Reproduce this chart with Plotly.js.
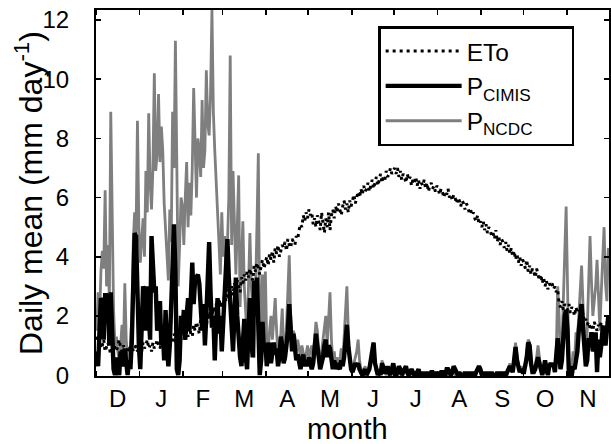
<!DOCTYPE html>
<html>
<head>
<meta charset="utf-8">
<script src="https://cdn.plot.ly/plotly-3.0.1.min.js"></script>
<style>html,body{margin:0;padding:0;background:#fff;}#chart{width:611px;height:444px;}</style>
</head>
<body>
<div id="chart"></div>
<script>
// Month labels (December to November) and month lengths in days
const monthLabels = ['D','J','F','M','A','M','J','J','A','S','O','N'];
const monthDays = [31,31,28,31,30,31,30,31,31,30,31,30];

// Reference evapotranspiration ETo, daily mean (mm/day), one row per month Dec..Nov
const etoByMonth = [
  [1.3,1.1,1.2,0.9,1.0,1.2,0.8,1.0,1.1,0.9,0.7,1.0,1.1,0.9,0.8,1.0,1.2,0.9,0.8,1.0,0.9,0.7,0.8,1.0,0.9,1.1,0.8,0.9,1.0,0.8,0.9],
  [1.0,0.8,1.1,0.9,1.0,1.2,0.9,1.0,0.8,1.1,0.9,1.0,1.2,1.0,0.9,1.1,1.0,1.2,0.9,1.1,1.3,1.0,1.2,1.1,1.4,1.2,1.0,1.3,1.5,1.2,1.3],
  [1.4,1.2,1.5,1.3,1.6,1.4,1.3,1.7,1.5,1.8,1.6,1.4,1.9,1.7,2.0,1.8,1.6,2.1,1.9,2.2,2.0,2.3,2.1,2.4,2.2,2.6,2.3,2.5],
  [2.4,2.7,2.5,2.9,2.6,2.8,3.0,2.7,3.1,2.9,3.2,3.0,2.8,3.3,3.1,3.4,3.2,3.5,3.3,3.6,3.4,3.2,3.7,3.5,3.8,3.6,3.4,3.7,3.9,3.6,3.8],
  [4.0,3.7,4.1,3.9,4.2,3.8,4.3,4.1,4.4,4.0,4.2,4.4,4.3,4.5,4.2,4.6,4.4,4.3,4.6,4.5,4.4,4.7,4.6,4.9,5.1,5.0,5.4,5.2,5.5,5.3],
  [5.6,5.4,5.5,5.1,5.3,5.0,5.4,5.2,4.9,5.5,5.1,4.8,5.3,5.0,5.5,4.9,5.4,5.6,5.3,5.7,5.5,5.8,5.6,5.4,5.7,5.9,5.6,5.8,5.5,5.9,5.7],
  [5.9,6.1,5.8,6.0,6.2,6.0,6.3,6.1,6.4,6.2,6.3,6.5,6.2,6.4,6.6,6.3,6.5,6.7,6.4,6.6,6.8,6.5,6.7,6.6,6.9,6.7,6.8,7.0,6.8,6.9],
  [7.0,6.8,7.0,6.7,6.9,6.6,6.8,6.7,6.5,6.8,6.6,6.7,6.4,6.6,6.5,6.7,6.4,6.6,6.3,6.5,6.4,6.6,6.3,6.5,6.2,6.4,6.5,6.3,6.4,6.2,6.4],
  [6.3,6.1,6.3,6.2,6.0,6.2,6.1,6.3,6.0,6.1,5.9,6.1,6.0,5.8,6.0,5.9,5.7,5.9,5.8,5.6,5.8,5.7,5.5,5.6,5.4,5.5,5.3,5.2,5.4,5.1,5.2],
  [5.0,5.2,4.9,5.1,4.8,5.0,4.9,4.7,4.8,4.6,4.9,4.5,4.7,4.4,4.6,4.5,4.3,4.5,4.2,4.4,4.1,4.3,4.0,4.2,3.9,4.1,3.8,4.0,3.7,3.9],
  [3.8,3.6,3.9,3.5,3.7,3.4,3.6,3.5,3.3,3.6,3.4,3.2,3.4,3.1,3.3,3.0,3.2,2.9,3.1,3.0,3.1,2.9,3.0,2.8,2.9,2.4,2.3,2.5,2.2,2.4,2.3],
  [2.2,2.4,2.1,2.3,2.2,2.0,2.3,2.1,2.2,2.0,1.9,2.1,1.8,1.9,1.7,1.8,1.6,1.7,1.5,1.8,1.6,1.5,1.7,1.6,1.8,1.5,1.7,1.6,1.8,1.7]
];

// Precipitation, CIMIS station, daily mean (mm/day)
const pCimisByMonth = [
  [0.8,0.3,1.5,2.6,2.5,1.2,2.7,2.7,2.6,1.0,2.8,0.8,0.2,0.0,0.6,0.2,0.0,0.8,0.6,0.3,0.9,0.2,0.0,0.5,0.2,1.2,3.0,4.8,4.7,2.5,1.0],
  [0.2,2.0,3.0,2.8,1.5,3.0,2.0,1.2,4.7,3.5,2.8,3.0,1.5,2.0,2.5,1.0,1.5,0.5,2.2,1.0,0.3,1.0,2.5,3.8,5.1,3.5,0.2,0.0,0.5,2.0,1.5],
  [2.2,1.2,2.0,2.6,1.5,3.0,3.8,2.4,3.2,3.3,3.4,3.1,2.5,1.5,2.4,1.0,2.0,3.5,4.5,2.8,1.6,2.0,0.5,1.8,2.6,1.4,2.0,0.8],
  [1.6,2.5,3.5,4.6,3.3,2.5,1.9,0.8,2.0,3.3,2.0,1.2,0.6,0.3,1.0,1.9,0.6,0.2,1.5,2.6,1.2,0.6,3.2,2.0,3.3,1.0,0.0,0.5,1.8,0.8,1.1],
  [0.3,0.6,1.1,0.4,0.8,1.1,0.7,0.9,0.3,0.6,1.3,1.0,0.4,0.6,1.0,1.5,2.4,1.4,0.8,1.4,1.0,0.5,0.7,0.4,0.2,0.5,0.7,0.3,0.5,0.3],
  [0.6,0.4,0.2,0.4,0.9,1.4,1.0,0.5,0.2,0.4,0.6,1.0,1.2,0.6,1.0,0.9,0.4,0.2,0.5,0.2,0.4,0.3,0.2,0.5,0.3,0.6,1.2,1.7,1.0,0.4,0.2],
  [0.1,0.3,0.4,0.3,0.4,0.2,0.1,0,0.1,0.2,0,0.1,0.2,0.5,0.8,1.1,0.4,0.1,0,0.1,0,0.4,0.2,0.1,0.1,0.3,0.1,0,0.2,0.4],
  [0.1,0,0.1,0.3,0.2,0,0.1,0.2,0.3,0.1,0,0.1,0.2,0.1,0,0,0.1,0.2,0,0,0.1,0,0,0.1,0,0,0.1,0.1,0,0,0.1],
  [0,0,0.1,0.1,0,0,0.2,0.2,0.1,0,0.1,0.3,0.2,0.1,0,0.1,0,0,0,0.1,0,0,0.1,0,0,0.1,0,0.1,0.2,0.3,0.2],
  [0,0.1,0,0,0.1,0,0,0.1,0,0,0,0.1,0,0.1,0,0,0.1,0,0.1,0.2,0.3,0.2,0.1,0.5,0.95,0.5,0.2,0.1,0.2,0.1],
  [0.1,0.3,0.6,1.1,1.0,0.4,0.1,0.1,0.2,0.4,0.6,0.4,0.1,0,0.2,0.5,0.2,0,0.3,0.4,0.3,0.4,0.1,0.8,1.25,0.8,0.2,0.5,1.5,2.0,2.2],
  [1.5,0,0,0,0.3,0.2,0.5,0.8,1.5,2.0,2.4,1.6,0.9,0.3,0.5,1.25,1.0,1.45,0.8,1.0,1.45,0.1,1.2,0.6,1.0,1.6,1.6,1.0,1.5,2.0]
];

// Precipitation, NCDC station, daily mean (mm/day)
const pNcdcByMonth = [
  [1.5,2.8,1.8,3.5,4.2,3.6,6.25,3.0,4.4,2.5,8.9,5.0,2.2,1.0,1.3,0.8,0.5,1.0,1.7,0.8,3.1,1.2,0.5,0.8,1.0,2.0,4.5,5.5,4.8,8.6,5.0],
  [3.8,4.5,5.3,4.0,6.9,5.5,8.85,6.5,5.6,7.0,10.2,6.9,7.5,9.5,7.2,8.4,7.6,5.8,4.8,4.0,3.2,5.6,4.5,8.9,7.0,11.3,6.3,3.0,4.4,6.0,5.7],
  [4.4,6.0,7.2,5.0,6.5,5.4,7.0,9.7,7.5,6.0,8.0,7.6,6.7,9.3,7.0,7.6,10.3,8.5,8.1,9.5,12.35,8.9,7.6,6.5,5.4,4.5,3.4,5.5],
  [4.0,4.7,3.5,4.4,6.0,10.8,4.4,6.9,5.0,3.4,5.0,6.75,2.3,3.5,5.2,3.0,2.0,1.3,3.0,4.8,3.0,2.3,0.6,2.5,5.0,7.5,1.3,2.0,3.4,1.2,3.5],
  [1.0,0.8,1.5,2.0,1.2,1.8,2.6,1.5,0.6,1.0,1.4,2.25,1.0,0.5,1.5,2.8,4.05,2.0,1.2,1.5,1.3,0.8,1.2,0.9,0.6,1.0,0.8,0.5,0.7,1.0],
  [0.6,0.8,1.0,0.6,1.2,1.8,1.5,0.7,0.4,0.8,1.0,1.6,2.0,1.0,1.8,2.8,1.2,0.5,0.8,0.3,0.6,0.4,0.5,0.9,0.4,1.2,2.0,3.0,1.5,0.5,0.3],
  [0.2,0.4,0.6,0.8,1.2,0.5,0.2,0.1,0.2,0.3,0.1,0.2,0.3,0.5,0.8,1.1,0.4,0.1,0.1,0.2,0.1,0.5,0.2,0.1,0,0.2,0,0,0.1,0.3],
  [0.1,0,0,0.2,0.1,0,0,0.1,0.2,0,0,0,0.1,0,0,0,0,0.1,0,0,0,0,0,0,0,0,0,0,0,0,0],
  [0,0,0,0,0,0,0,0,0,0.1,0.2,0.1,0,0,0,0,0,0,0,0,0,0,0,0,0,0,0,0,0.2,0.3,0.1],
  [0,0,0,0,0,0,0,0,0,0,0,0,0,0.1,0,0,0.1,0,0,0.2,0.4,0.2,0.1,0.6,1.1,0.7,0.3,0.1,0.3,0.2],
  [0.2,0.4,0.8,1.2,1.1,0.5,0.2,0.1,0.3,0.6,1.0,0.5,0.2,0.1,0.3,0.5,0.2,0.1,0.3,0.4,0.3,0.4,0.1,0.8,3.0,2.0,0.2,1.0,2.5,4.0,5.7],
  [3.0,0.2,0,0.3,0.8,0.5,1.45,1.2,2.0,2.8,3.7,2.4,1.5,0.6,1.5,3.0,4.7,3.2,2.0,2.5,3.0,3.9,2.5,1.5,2.8,4.0,5.0,3.1,2.5,4.3]
];

const yTickVals = [0,2,4,6,8,10,12];

// ---- derived (not data) ----
const eto = etoByMonth.flat();
const pCimis = pCimisByMonth.flat();
const pNcdc = pNcdcByMonth.flat();
const dayOf = arr => arr.map((_, i) => i);

const monthStarts = [];
const monthMids = [];
let acc = 0;
monthDays.forEach(n => { monthStarts.push(acc - 0.5); monthMids.push(acc - 0.5 + n / 2); acc += n; });

const FONT = 'Liberation Sans, Arial, Helvetica, sans-serif';
const PAD = '\u00a0\u00a0\u00a0\u00a0\u00a0';

const traces = [
  {x: dayOf(pNcdc), y: pNcdc, type: 'scatter', mode: 'lines', name: 'P<sub>NCDC</sub>' + PAD,
   line: {color: '#7f7f7f', width: 2.8}, legendrank: 3},
  {x: dayOf(pCimis), y: pCimis, type: 'scatter', mode: 'lines', name: 'P<sub>CIMIS</sub>',
   line: {color: '#000000', width: 4.4}, legendrank: 2},
  {x: dayOf(eto), y: eto, type: 'scatter', mode: 'lines', name: 'ETo',
   line: {color: '#000000', width: 3, dash: '3px,4px'}, legendrank: 1}
];

const layout = {
  width: 611, height: 444,
  margin: {l: 96, r: 2, t: 10, b: 68, pad: 0},
  paper_bgcolor: '#ffffff', plot_bgcolor: '#ffffff',
  font: {family: FONT, color: '#000000', size: 24},
  showlegend: true,
  legend: {x: 0.55, y: 0.956, xanchor: 'left', yanchor: 'top',
           bgcolor: '#ffffff', bordercolor: '#000000', borderwidth: 2.5,
           font: {family: FONT, size: 24.5, color: '#000'}, itemwidth: 76,
           traceorder: 'normal'},
  xaxis: {
    range: [-0.5, 364.5], showgrid: false, zeroline: false,
    showline: true, linecolor: '#000', linewidth: 2, mirror: 'ticks',
    tickmode: 'array', tickvals: monthMids, ticktext: monthLabels,
    ticks: '', tickfont: {family: FONT, size: 24},
    minor: {tickmode: 'array', tickvals: monthStarts, ticks: 'inside', ticklen: 5, tickwidth: 1.5, tickcolor: '#000'}
  },
  yaxis: {
    range: [-0.03, 12.34], showgrid: false, zeroline: false,
    showline: true, linecolor: '#000', linewidth: 2, mirror: 'ticks',
    tickmode: 'array', tickvals: yTickVals, ticks: 'inside', ticklen: 5, tickwidth: 1.5, tickcolor: '#000',
    tickfont: {family: FONT, size: 24}, ticklabelstandoff: 20
  },
  annotations: [
    {text: 'Daily mean (mm day<sup>-1</sup>)', textangle: -90, showarrow: false,
     xref: 'paper', yref: 'paper', x: 0, y: 0.5, xanchor: 'center', yanchor: 'middle', xshift: -67,
     font: {family: FONT, size: 32, color: '#000'}},
    {text: 'month', showarrow: false,
     xref: 'paper', yref: 'paper', x: 0.491, y: 0, xanchor: 'center', yanchor: 'middle', yshift: -53,
     font: {family: FONT, size: 29, color: '#000'}}
  ]
};

Plotly.newPlot('chart', traces, layout, {displayModeBar: false, staticPlot: true});
</script>
</body>
</html>
